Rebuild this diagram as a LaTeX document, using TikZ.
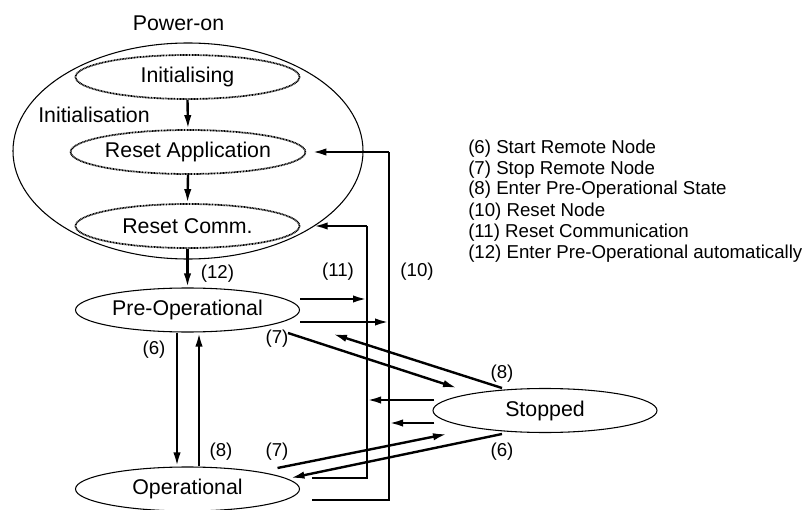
\documentclass[tikz,border=0pt]{standalone}
\usepackage{fontspec}
\setmainfont{Liberation Sans}
\usetikzlibrary{shapes.geometric,arrows.meta,calc}
\begin{document}
\begin{tikzpicture}[x=0.75pt,y=-0.75pt,
  state/.style={draw, ellipse, line width=0.8pt, inner sep=0pt, minimum width=168pt, minimum height=33pt, font=\fontsize{16}{19}\selectfont},
  substate/.style={state, line width=1.3pt, dash pattern=on 0.7pt off 0.45pt},
  big/.style={font=\fontsize{16}{19}\selectfont, inner sep=0pt},
  small/.style={font=\fontsize{14}{16}\selectfont, inner sep=0pt},
  arr/.style={line width=1.8pt, -{Latex[length=10.5pt,width=5.5pt]}},
  trunk/.style={line width=0.8pt}]

\useasboundingbox (0,0) rectangle (811,510);

% container
\node[draw, ellipse, line width=0.8pt, inner sep=0pt, minimum width=262.5pt, minimum height=162pt] (initbox) at (188,151) {};
\node[big, anchor=base] (poweron) at (178.5,31) {Power-on};
\node[big, anchor=base west] (initlabel) at (38,122.5) {Initialisation};

% states
\node[substate] (init) at (187.5,77) {Initialising};
\node[substate] (ra) at (188,152) {Reset Application};
\node[substate] (rc) at (187.5,226) {Reset Comm.};
\node[state] (pre) at (187.5,310) {Pre-Operational};
\node[state] (op) at (187.5,489) {Operational};
\node[state] (st) at (545,410.5) {Stopped};

% initialisation chain
\draw[arr] (init.south) -- (ra.north);
\draw[arr] (ra.south) -- (rc.north);
\draw[arr] (rc.south) -- (pre.north);

% pre <-> op
\draw[arr] ($(pre.south)+(-10.5,0)$) -- ($(op.north)+(-10.5,0)$);
\draw[arr] ($(op.north)+(11.5,0)$) -- ($(pre.south)+(11.5,0)$);

% reset trunks
\coordinate (t10top) at (389,152);
\coordinate (t10bot) at (389,500);
\coordinate (b10) at (312,500);
\coordinate (t11top) at (367,226);
\coordinate (t11bot) at (367,478);
\coordinate (b11) at (312,478);
\draw[trunk] (t10top) -- (t10bot) -- (b10);
\draw[trunk] (t11top) -- (t11bot) -- (b11);
\draw[arr, shorten >=4.5pt] (t10top) -- (ra.east);
\draw[arr, shorten >=10pt] (t11top) -- (rc.east);

\draw[arr] ($(pre.east)+(0,-11)$) -- ($(pre.east -| t11top)+(0,-11)$);
\draw[arr] ($(pre.east)+(0,12)$) -- ($(pre.east -| t10top)+(0,12)$);
\draw[arr] ($(st.west)+(2,-10.5)$) -- ($(st.west -| t11top)+(0,-10.5)$);
\draw[arr] ($(st.west)+(2,12.5)$) -- ($(st.west -| t10top)+(0,12.5)$);

% diagonals
\draw[arr] ($(pre.center)+(100.5,23)$) -- ($(st.center)+(-88,-22.5)$);
\draw[arr] ($(st.center)+(-43,-22.5)$) -- ($(pre.center)+(145.5,24)$);
\draw[arr] ($(op.center)+(90,-21)$) -- ($(st.center)+(-98,23.5)$);
\draw[arr] ($(st.center)+(-43,23.5)$) -- ($(op.center)+(103,-11)$);

% transition labels
\node[small, anchor=base] (l12) at (217.5,278) {(12)};
\node[small, anchor=base] (l6a) at (154,354) {(6)};
\node[small, anchor=base] (l8a) at (221,456) {(8)};
\node[small, anchor=base] (l7a) at (277,456) {(7)};
\node[small, anchor=base] (l7b) at (277,343) {(7)};
\node[small, anchor=base] (l11) at (338,276) {(11)};
\node[small, anchor=base] (l10) at (417,276) {(10)};
\node[small, anchor=base] (l8b) at (502,378) {(8)};
\node[small, anchor=base] (l6b) at (502,456) {(6)};

% legend
\node[small, anchor=base west] (leg1) at (468,153) {(6) Start Remote Node};
\node[small, anchor=base west] (leg2) at (468,174) {(7) Stop Remote Node};
\node[small, anchor=base west] (leg3) at (468,195) {(8) Enter Pre-Operational State};
\node[small, anchor=base west] (leg4) at (468,216) {(10) Reset Node};
\node[small, anchor=base west] (leg5) at (468,237) {(11) Reset Communication};
\node[small, anchor=base west] (leg6) at (468,258) {(12) Enter Pre-Operational automatically};
\end{tikzpicture}
\end{document}
